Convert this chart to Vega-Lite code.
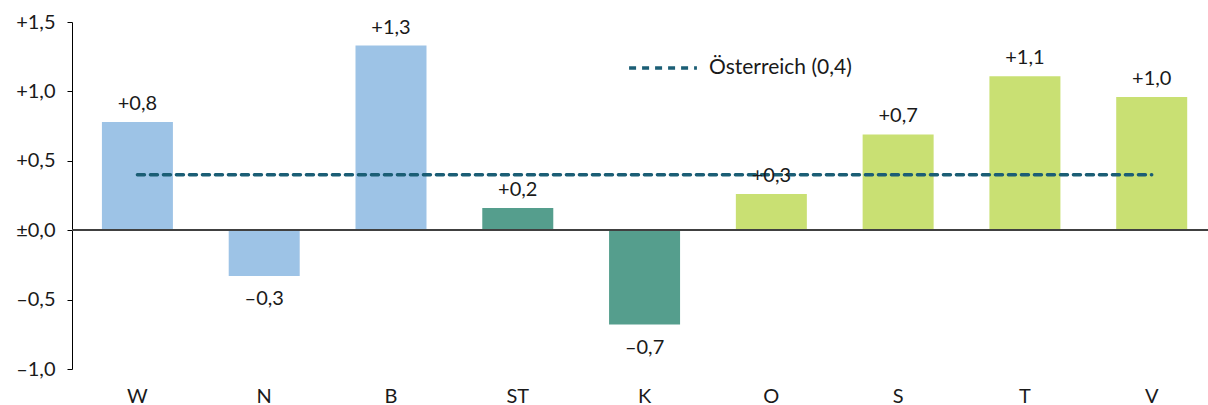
{
  "$schema": "https://vega.github.io/schema/vega-lite/v6.json",
  "width": 1136,
  "height": 347,
  "autosize": "none",
  "padding": {"left": 72, "top": 22, "right": 0, "bottom": 36},
  "background": "white",
  "config": {
    "view": {"stroke": null},
    "font": "Lato",
    "locale": {
      "number": {"decimal": ",", "thousands": ".", "grouping": [3], "currency": ["", " €"], "minus": "–"}
    },
    "axis": {"labelFont": "Lato", "labelFontSize": 20, "labelColor": "#1a1a1a", "grid": false}
  },
  "data": {
    "values": [
      {"region": "W", "group": "Ost", "value": 0.78, "at": 0.4, "ref": "Österreich (0,4)"},
      {"region": "N", "group": "Ost", "value": -0.33, "at": 0.4, "ref": "Österreich (0,4)"},
      {"region": "B", "group": "Ost", "value": 1.33, "at": 0.4, "ref": "Österreich (0,4)"},
      {"region": "ST", "group": "Süd", "value": 0.16, "at": 0.4, "ref": "Österreich (0,4)"},
      {"region": "K", "group": "Süd", "value": -0.68, "at": 0.4, "ref": "Österreich (0,4)"},
      {"region": "O", "group": "West", "value": 0.26, "at": 0.4, "ref": "Österreich (0,4)"},
      {"region": "S", "group": "West", "value": 0.69, "at": 0.4, "ref": "Österreich (0,4)"},
      {"region": "T", "group": "West", "value": 1.11, "at": 0.4, "ref": "Österreich (0,4)"},
      {"region": "V", "group": "West", "value": 0.96, "at": 0.4, "ref": "Österreich (0,4)"}
    ]
  },
  "encoding": {
    "x": {
      "field": "region",
      "type": "nominal",
      "sort": null,
      "scale": {"paddingInner": 0.44, "paddingOuter": 0.2, "align": 0.59},
      "axis": {"title": null, "domain": false, "ticks": false, "labelPadding": 17, "labelAngle": 0}
    }
  },
  "layer": [
    {
      "mark": {"type": "bar"},
      "encoding": {
        "y": {
          "field": "value",
          "type": "quantitative",
          "scale": {"domain": [-1, 1.5], "nice": false, "zero": false},
          "axis": {
            "title": null,
            "values": [-1, -0.5, 0, 0.5, 1, 1.5],
            "format": "+.1f",
            "labelExpr": "datum.value === 0 ? '±0,0' : datum.label",
            "domainColor": "#000000",
            "tickColor": "#000000",
            "tickSize": 5,
            "labelPadding": 12
          }
        },
        "color": {
          "field": "group",
          "type": "nominal",
          "scale": {"domain": ["Ost", "Süd", "West"], "range": ["#9DC3E6", "#559E8D", "#C9E073"]},
          "legend": null
        }
      }
    },
    {
      "mark": {"type": "rule", "color": "#404040", "strokeWidth": 1.5},
      "encoding": {"y": {"datum": 0}, "x": {"value": 0}, "x2": {"value": 1136}}
    },
    {
      "mark": {"type": "line", "strokeWidth": 3.5, "strokeDash": [7, 6], "strokeCap": "round"},
      "encoding": {
        "y": {"field": "at", "type": "quantitative"},
        "stroke": {
          "field": "ref",
          "type": "nominal",
          "scale": {"range": ["#1B5E75"]},
          "legend": {
            "title": null,
            "orient": "none",
            "legendX": 555,
            "legendY": 10,
            "padding": 0,
            "symbolType": "stroke",
            "symbolSize": 4600,
            "symbolStrokeWidth": 3.5,
            "symbolDash": [7, 6],
            "labelFontSize": 21,
            "labelFont": "Lato",
            "labelColor": "#1a1a1a",
            "labelOffset": 10
          }
        }
      }
    },
    {
      "transform": [{"filter": "datum.value >= 0"}],
      "mark": {"type": "text", "baseline": "bottom", "dy": -8, "fontSize": 20, "color": "#1a1a1a"},
      "encoding": {
        "y": {"field": "value", "type": "quantitative"},
        "text": {"field": "value", "type": "quantitative", "format": "+.1f"}
      }
    },
    {
      "transform": [{"filter": "datum.value < 0"}],
      "mark": {"type": "text", "baseline": "top", "dy": 13, "fontSize": 20, "color": "#1a1a1a"},
      "encoding": {
        "y": {"field": "value", "type": "quantitative"},
        "text": {"field": "value", "type": "quantitative", "format": "+.1f"}
      }
    }
  ]
}
